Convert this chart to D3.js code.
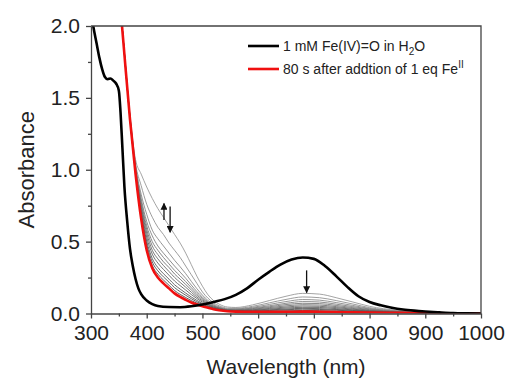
<!DOCTYPE html>
<html lang="en">
<head>
<meta charset="utf-8">
<title>Fe(IV)=O decay spectra</title>
<script src="https://d3js.org/d3.v7.min.js"></script>
<style>
  body { margin: 0; background: #fff; }
  text { font-family: "Liberation Sans", Arial, sans-serif; fill: #222; }
</style>
</head>
<body>
<div id="chart"></div>
<script>

// wavelengths (nm) and absorbance
var wlBlack = [300,304,310,315,320,325,330,335,340,345,350,353,356,360,365,370,375,380,385,390,400,410,420,440,460,480,500,520,540,560,580,600,620,640,660,680,700,720,740,760,780,800,820,840,860,880,900,925,950,975,1000]
var absBlack = [2.10,2.00,1.88,1.78,1.70,1.645,1.63,1.635,1.62,1.60,1.55,1.40,1.18,0.88,0.64,0.45,0.33,0.24,0.175,0.135,0.09,0.065,0.052,0.045,0.044,0.05,0.062,0.08,0.10,0.13,0.175,0.235,0.29,0.34,0.375,0.39,0.38,0.33,0.26,0.185,0.12,0.08,0.057,0.04,0.028,0.02,0.014,0.008,0.003,0.001,0]

var wlRed = [350,355,360,370,380,390,400,410,420,430,440,450,460,470,480,490,500,510,520,530,545,560,590,620,650,680,710,740,770,800,850,900,1000]
var absRed = [2.25,2.03,1.80,1.35,0.97,0.66,0.44,0.315,0.25,0.21,0.175,0.14,0.115,0.095,0.077,0.062,0.05,0.04,0.03,0.023,0.016,0.013,0.011,0.011,0.012,0.013,0.012,0.010,0.008,0.007,0.005,0.003,0]

// intermediate scans, all on the same wavelength grid
var wlGray = [355,360,370,380,390,400,410,420,430,440,450,460,470,480,490,500,510,520,530,545,560,590,620,650,680,710,740,770,800,850,900,1000]
var scan01 = [2.04,1.82,1.38,1.07,0.97,0.88,0.80,0.73,0.67,0.61,0.55,0.49,0.42,0.34,0.26,0.19,0.13,0.09,0.065,0.045,0.042,0.06,0.09,0.12,0.14,0.135,0.11,0.08,0.05,0.022,0.008,0]
var scan02 = [2.04,1.81,1.37,1.04,0.89,0.76,0.67,0.60,0.55,0.49,0.44,0.39,0.33,0.27,0.21,0.15,0.106,0.074,0.054,0.037,0.036,0.050,0.074,0.098,0.115,0.110,0.090,0.066,0.041,0.019,0.007,0]
var scan03 = [2.04,1.81,1.37,1.03,0.83,0.69,0.58,0.52,0.47,0.42,0.37,0.325,0.277,0.224,0.173,0.128,0.09,0.064,0.047,0.032,0.032,0.043,0.063,0.083,0.097,0.093,0.076,0.056,0.035,0.016,0.006,0]
var scan04 = [2.04,1.81,1.36,1.02,0.80,0.64,0.54,0.47,0.42,0.375,0.33,0.288,0.245,0.198,0.153,0.114,0.081,0.058,0.042,0.029,0.029,0.038,0.054,0.071,0.083,0.080,0.065,0.048,0.031,0.014,0.006,0]
var scan05 = [2.04,1.81,1.36,1.01,0.78,0.61,0.50,0.44,0.39,0.345,0.30,0.261,0.222,0.18,0.139,0.105,0.075,0.053,0.039,0.027,0.026,0.034,0.047,0.062,0.071,0.069,0.056,0.041,0.027,0.013,0.005,0]
var scan06 = [2.04,1.81,1.36,1.00,0.76,0.585,0.47,0.41,0.36,0.32,0.275,0.239,0.202,0.164,0.127,0.096,0.07,0.05,0.037,0.026,0.024,0.030,0.041,0.053,0.061,0.059,0.048,0.035,0.023,0.011,0.005,0]
var scan07 = [2.04,1.81,1.36,1.00,0.744,0.56,0.44,0.38,0.334,0.292,0.251,0.216,0.183,0.148,0.115,0.088,0.064,0.046,0.034,0.024,0.022,0.026,0.035,0.045,0.052,0.050,0.041,0.030,0.020,0.010,0.005,0]
var scan08 = [2.04,1.80,1.36,0.99,0.725,0.532,0.413,0.351,0.307,0.266,0.226,0.194,0.163,0.132,0.104,0.079,0.059,0.043,0.032,0.022,0.020,0.023,0.030,0.038,0.043,0.042,0.034,0.025,0.017,0.009,0.004,0]
var scan09 = [2.04,1.80,1.35,0.985,0.705,0.504,0.382,0.32,0.277,0.239,0.20,0.17,0.142,0.115,0.091,0.07,0.053,0.039,0.029,0.020,0.018,0.020,0.025,0.031,0.036,0.034,0.028,0.021,0.015,0.008,0.004,0]
var scan10 = [2.04,1.80,1.35,0.98,0.69,0.483,0.358,0.297,0.255,0.218,0.18,0.152,0.127,0.103,0.081,0.064,0.049,0.036,0.027,0.019,0.017,0.017,0.021,0.026,0.030,0.028,0.023,0.017,0.013,0.007,0.004,0]
var scan11 = [2.04,1.80,1.35,0.975,0.675,0.462,0.334,0.274,0.233,0.196,0.16,0.133,0.111,0.09,0.072,0.057,0.044,0.033,0.025,0.017,0.015,0.014,0.016,0.019,0.021,0.020,0.016,0.013,0.010,0.006,0.003,0]
var grayScans = [scan01, scan02, scan03, scan04, scan05, scan06, scan07, scan08, scan09, scan10, scan11]

var xTicks = [300,400,500,600,700,800,900,1000]
var xMinor = [350,450,550,650,750,850,950]
var yTicks = [0, 0.5, 1.0, 1.5, 2.0]
var yMinor = [0.25, 0.75, 1.25, 1.75]

// arrows: [wavelength, from absorbance, to absorbance]
var arrowMarks = [[431, 0.65, 0.765], [442, 0.745, 0.565], [687, 0.30, 0.145]]

var legendLabels = ["1 mM Fe(IV)=O in H", "80 s after addtion of 1 eq Fe"]

var width = 507, height = 379
var margin = {top: 26, right: 26, bottom: 65.5, left: 91}

var svg = d3.select("#chart").append("svg")
    .attr("width", width)
    .attr("height", height)

var x = d3.scaleLinear().domain([300, 1000]).range([margin.left, width - margin.right])
var y = d3.scaleLinear().domain([0, 2]).range([height - margin.bottom, margin.top])

svg.append("clipPath").attr("id", "plotclip")
  .append("rect")
    .attr("x", margin.left).attr("y", margin.top)
    .attr("width", x(1000) - x(300)).attr("height", y(0) - y(2))

var line = d3.line()
    .x(function(d) { return x(d[0]) })
    .y(function(d) { return y(d[1]) })
    .curve(d3.curveMonotoneX)

function pairs(wl, vals) { return wl.map(function(w, i) { return [w, vals[i]] }) }

var plot = svg.append("g").attr("clip-path", "url(#plotclip)")

var grayColor = d3.scaleLinear().domain([0, grayScans.length - 1]).range(["#9a9a9a", "#4a4a4a"])

plot.selectAll("path.scan")
  .data(grayScans)
  .enter().append("path")
    .attr("class", "scan")
    .attr("d", function(d) { return line(pairs(wlGray, d)) })
    .attr("fill", "none")
    .attr("stroke", function(d, i) { return grayColor(i) })
    .attr("stroke-width", 0.9)

plot.append("path")
    .attr("d", line(pairs(wlRed, absRed)))
    .attr("fill", "none")
    .attr("stroke", "#f01010")
    .attr("stroke-width", 2.6)

plot.append("path")
    .attr("d", line(pairs(wlBlack, absBlack)))
    .attr("fill", "none")
    .attr("stroke", "#000")
    .attr("stroke-width", 2.6)

// arrows
svg.append("defs").append("marker")
    .attr("id", "head")
    .attr("viewBox", "0 0 10 10")
    .attr("refX", 9).attr("refY", 5)
    .attr("markerWidth", 9).attr("markerHeight", 7)
    .attr("markerUnits", "userSpaceOnUse")
    .attr("orient", "auto")
  .append("path")
    .attr("d", "M0,0L10,5L0,10z")
    .attr("fill", "#111")

svg.selectAll("line.arrow")
  .data(arrowMarks)
  .enter().append("line")
    .attr("class", "arrow")
    .attr("x1", function(d) { return x(d[0]) })
    .attr("x2", function(d) { return x(d[0]) })
    .attr("y1", function(d) { return y(d[1]) })
    .attr("y2", function(d) { return y(d[2]) })
    .attr("stroke", "#111")
    .attr("stroke-width", 1.3)
    .attr("marker-end", "url(#head)")

// axes
var axisColor = "#444"

svg.append("g")
    .attr("transform", "translate(0," + y(0) + ")")
    .call(d3.axisBottom(x).tickValues(xTicks).tickSize(5).tickSizeOuter(0).tickPadding(7).tickFormat(d3.format("d")))
svg.append("g")
    .attr("transform", "translate(0," + y(0) + ")")
    .call(d3.axisBottom(x).tickValues(xMinor).tickSize(3).tickSizeOuter(0).tickFormat(""))
    .select(".domain").remove()

svg.append("g")
    .attr("transform", "translate(" + x(300) + ",0)")
    .call(d3.axisLeft(y).tickValues(yTicks).tickSize(5).tickSizeOuter(0).tickPadding(6).tickFormat(d3.format(".1f")))
svg.append("g")
    .attr("transform", "translate(" + x(300) + ",0)")
    .call(d3.axisLeft(y).tickValues(yMinor).tickSize(3).tickSizeOuter(0).tickFormat(""))
    .select(".domain").remove()

svg.selectAll(".tick line").attr("stroke", axisColor).attr("stroke-width", 1.3)
svg.selectAll(".domain").attr("stroke", axisColor).attr("stroke-width", 1.3)
svg.selectAll(".tick text").attr("font-size", 21).style("font-family", "'Liberation Sans', Arial, sans-serif").attr("fill", "#222")

// top and right frame
svg.append("path")
    .attr("d", "M" + x(300) + "," + y(2) + "H" + x(1000) + "V" + y(0))
    .attr("fill", "none")
    .attr("stroke", axisColor)
    .attr("stroke-width", 1.3)

// axis titles
svg.append("text")
    .attr("x", (x(300) + x(1000)) / 2)
    .attr("y", 374)
    .attr("text-anchor", "middle")
    .attr("font-size", 21)
    .text("Wavelength (nm)")

svg.append("text")
    .attr("transform", "translate(34," + (y(0) + y(2)) / 2 + ") rotate(-90)")
    .attr("text-anchor", "middle")
    .attr("font-size", 22)
    .text("Absorbance")

// legend
var legend = svg.append("g")
var rows = [{c: "#000", y: 46, sub: "2", tail: "O", sup: null},
            {c: "#f01010", y: 69, sub: null, tail: "", sup: "II"}]
rows.forEach(function(r, i) {
  legend.append("line")
      .attr("x1", 248).attr("x2", 279)
      .attr("y1", r.y).attr("y2", r.y)
      .attr("stroke", r.c).attr("stroke-width", 2.6)
  var t = legend.append("text")
      .attr("x", 283).attr("y", r.y + 5)
      .attr("font-size", 14)
  t.append("tspan").text(legendLabels[i])
  if (r.sub) {
    t.append("tspan").attr("dy", 4).attr("font-size", 10).text(r.sub)
    t.append("tspan").attr("dy", -4).text(r.tail)
  }
  if (r.sup) {
    t.append("tspan").attr("dy", -6).attr("font-size", 10).text(r.sup)
  }
})

</script>
</body>
</html>
